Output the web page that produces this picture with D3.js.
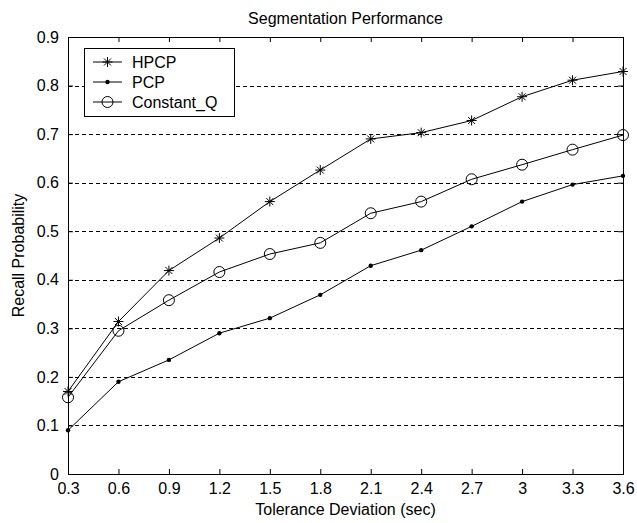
<!DOCTYPE html>
<html>
<head>
<meta charset="utf-8">
<script src="https://cdn.jsdelivr.net/npm/d3@7"></script>
<style>
  body { margin: 0; background: #fff; }
  text { font-family: "Liberation Sans", Arial, sans-serif; fill: #000; }
</style>
</head>
<body>
<svg id="chart" width="637" height="523"></svg>
<script>
// Data
var tolerance = [0.3, 0.6, 0.9, 1.2, 1.5, 1.8, 2.1, 2.4, 2.7, 3.0, 3.3, 3.6];
var hpcp      = [0.170, 0.314, 0.419, 0.486, 0.561, 0.626, 0.690, 0.703, 0.728, 0.777, 0.811, 0.829];
var pcp       = [0.090, 0.190, 0.235, 0.290, 0.321, 0.369, 0.429, 0.461, 0.510, 0.561, 0.596, 0.614];
var constantQ = [0.158, 0.295, 0.358, 0.416, 0.453, 0.476, 0.537, 0.561, 0.607, 0.637, 0.668, 0.698];
var yTicks = [0, 0.1, 0.2, 0.3, 0.4, 0.5, 0.6, 0.7, 0.8, 0.9];
var xTickLabels = ["0.3", "0.6", "0.9", "1.2", "1.5", "1.8", "2.1", "2.4", "2.7", "3", "3.3", "3.6"];

var seriesList = [
  {name: "HPCP", values: hpcp, marker: "star"},
  {name: "PCP", values: pcp, marker: "dot"},
  {name: "Constant_Q", values: constantQ, marker: "circle"}
];

var margin = {left: 68, right: 14, top: 37, bottom: 49};
var width = 637 - margin.left - margin.right;
var height = 523 - margin.top - margin.bottom;

var svg = d3.select("svg#chart").append("g")
  .attr("transform", "translate(" + margin.left + "," + margin.top + ")");

var x = d3.scaleLinear().domain([0.3, 3.6]).range([0, width]);
var y = d3.scaleLinear().domain([0, 0.9]).range([height, 0]);

// dashed horizontal grid
svg.append("g").selectAll("line").data(yTicks.slice(1, -1)).enter().append("line")
  .attr("x1", 0).attr("x2", width)
  .attr("y1", function(d) { return Math.round(y(d)) + 0.5; })
  .attr("y2", function(d) { return Math.round(y(d)) + 0.5; })
  .attr("stroke", "#000").attr("stroke-width", 1).attr("stroke-dasharray", "4,3");

// axes (ticks pointing inward, MATLAB box style)
var tickLen = 5;
var xAxis = d3.axisBottom(x).tickValues(tolerance).tickSize(-tickLen).tickPadding(tickLen + 4)
  .tickFormat(function(d, i) { return xTickLabels[i]; });
var yAxis = d3.axisLeft(y).tickValues(yTicks).tickSize(-tickLen).tickPadding(tickLen + 4)
  .tickFormat(function(d) { return d === 0 ? "0" : d3.format(".1f")(d); });

var gx = svg.append("g").attr("transform", "translate(0," + height + ")").call(xAxis);
var gy = svg.append("g").call(yAxis);
svg.append("g").call(d3.axisTop(x).tickValues(tolerance).tickSize(-tickLen).tickFormat(""));
svg.append("g").attr("transform", "translate(" + width + ",0)")
  .call(d3.axisRight(y).tickValues(yTicks).tickSize(-tickLen).tickFormat(""));

svg.selectAll(".domain").attr("stroke", "#000");
svg.selectAll(".tick line").attr("stroke", "#000");
gx.selectAll("text").style("font-size", "16px");
gy.selectAll("text").style("font-size", "16px");

// series lines
var line = d3.line()
  .x(function(d, i) { return x(tolerance[i]); })
  .y(function(d) { return y(d); });

seriesList.forEach(function(s) {
  svg.append("path").datum(s.values)
    .attr("fill", "none").attr("stroke", "#000").attr("stroke-width", 1)
    .attr("d", line);
});

function drawMarker(g, type) {
  if (type === "star") {
    var r = 5;
    g.append("path")
      .attr("d", "M" + (-r) + ",0H" + r + "M0," + (-r) + "V" + r +
        "M" + (-r * 0.7) + "," + (-r * 0.7) + "L" + (r * 0.7) + "," + (r * 0.7) +
        "M" + (-r * 0.7) + "," + (r * 0.7) + "L" + (r * 0.7) + "," + (-r * 0.7))
      .attr("stroke", "#000").attr("stroke-width", 1).attr("fill", "none");
  } else if (type === "dot") {
    g.append("circle").attr("r", 2.2).attr("fill", "#000");
  } else {
    g.append("circle").attr("r", 5.5).attr("fill", "none").attr("stroke", "#000").attr("stroke-width", 1);
  }
}

seriesList.forEach(function(s) {
  s.values.forEach(function(v, i) {
    var g = svg.append("g").attr("transform", "translate(" + x(tolerance[i]) + "," + y(v) + ")");
    drawMarker(g, s.marker);
  });
});

// legend
var legend = svg.append("g").attr("transform", "translate(" + (84 - margin.left) + "," + (48 - margin.top) + ")");
legend.append("rect").attr("x", 0.5).attr("y", 0.5).attr("width", 150).attr("height", 68)
  .attr("fill", "#fff").attr("stroke", "#000").attr("stroke-width", 1);
seriesList.forEach(function(s, i) {
  var ly = 14 + i * 20;
  legend.append("line").attr("x1", 9).attr("x2", 38).attr("y1", ly).attr("y2", ly)
    .attr("stroke", "#000").attr("stroke-width", 1);
  drawMarker(legend.append("g").attr("transform", "translate(23.5," + ly + ")"), s.marker);
  legend.append("text").attr("x", 48).attr("y", ly).attr("dy", "0.35em")
    .style("font-size", "16px").text(s.name);
});

// title and axis labels
svg.append("text").attr("x", width / 2).attr("y", -13).attr("text-anchor", "middle")
  .style("font-size", "16px").text("Segmentation Performance");
svg.append("text").attr("x", width / 2).attr("y", height + 41).attr("text-anchor", "middle")
  .style("font-size", "16px").text("Tolerance Deviation (sec)");
svg.append("text").attr("transform", "rotate(-90)").attr("x", -height / 2).attr("y", -margin.left + 24)
  .attr("text-anchor", "middle").style("font-size", "16px").text("Recall Probability");
</script>
</body>
</html>
